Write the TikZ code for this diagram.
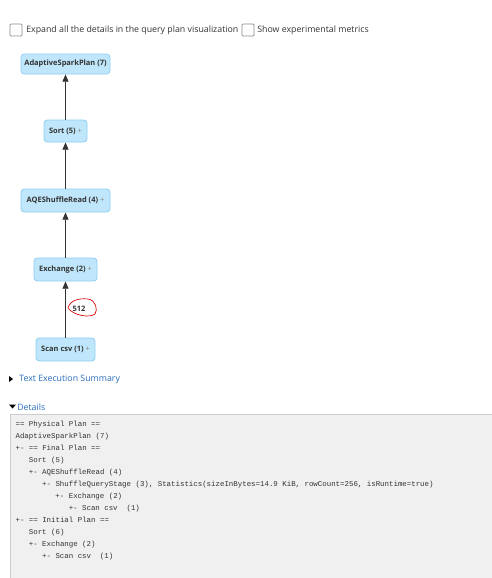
\documentclass[tikz,border=0pt]{standalone}
\usepackage{fontspec}
\setmainfont{Open Sans}
\newfontfamily\monofont{Liberation Mono}
\usetikzlibrary{arrows.meta}
\definecolor{nodefill}{HTML}{BFE6FA}
\definecolor{nodeedge}{HTML}{8CCFF2}
\definecolor{linkblue}{HTML}{2A6EBB}
\definecolor{boxfill}{HTML}{F0F0F0}
\definecolor{boxedge}{HTML}{CCCCCC}
\definecolor{plusgray}{HTML}{888888}
\definecolor{txt}{HTML}{333333}
\begin{document}
\begin{tikzpicture}[x=0.75pt,y=-0.75pt,
  plannode/.style={draw=nodeedge,fill=nodefill,rounded corners=2.5pt,line width=0.6pt,
    font=\fontsize{5.6}{6.5}\selectfont\bfseries,text=txt,inner sep=0pt},
  flow/.style={draw=black!80,line width=0.6pt,-{Triangle[length=5.5pt,width=4.5pt]}},
  chk/.style={draw=black!45,fill=white,rounded corners=0.8pt,line width=0.6pt,minimum size=9pt,inner sep=0pt},
  hdr/.style={font=\fontsize{6.6}{8}\selectfont,text=txt,anchor=west,inner sep=0pt},
  lnk/.style={font=\fontsize{6.6}{8}\selectfont,text=linkblue,anchor=west,inner sep=0pt},
  code/.style={font=\monofont\fontsize{5.56}{7}\selectfont,text=txt,anchor=west,inner sep=0pt}]
\useasboundingbox (0,0) rectangle (492,578);
% header
\node[chk] (c1) at (16,30) {};
\node[hdr] (t1) at (26,30) {Expand all the details in the query plan visualization};
\node[chk] (c2) at (248,30) {};
\node[hdr] (t2) at (257,30) {Show experimental metrics};
% plan graph
\node[plannode,minimum width=66.75pt,minimum height=15pt] (asp) at (65.5,64) {AdaptiveSparkPlan (7)};
\node[plannode,minimum width=32.25pt,minimum height=16.5pt] (sort) at (65.5,131) {Sort (5) \textcolor{plusgray}{\mdseries +}};
\node[plannode,minimum width=66.75pt,minimum height=17.25pt] (aqe) at (65.5,200.5) {AQEShuffleRead (4) \textcolor{plusgray}{\mdseries +}};
\node[plannode,minimum width=47.25pt,minimum height=17.25pt] (exch) at (65.5,269.5) {Exchange (2) \textcolor{plusgray}{\mdseries +}};
\node[plannode,minimum width=44.25pt,minimum height=17.25pt] (scan) at (65.5,349.5) {Scan csv (1) \textcolor{plusgray}{\mdseries +}};
\draw[flow] (sort) -- (asp);
\draw[flow] (aqe) -- (sort);
\draw[flow] (exch) -- (aqe);
\draw[flow] (scan) -- (exch);
% 512 label
\draw[red!85!black,line width=0.5pt] (68,308) .. controls (70,300) and (80,298) .. (88,299)
  .. controls (96,300) and (98,310) .. (95,314) .. controls (90,318) and (74,316) .. (68,308);
\node[font=\fontsize{5.6}{6.5}\selectfont\bfseries,text=txt,inner sep=0pt] (lbl) at (79,309) {512};
% summary toggles
\fill[black] (9,376) -- (13,379) -- (9,382) -- cycle;
\node[lnk] (ts) at (19,379) {Text Execution Summary};
\fill[black] (9,404.5) -- (16,404.5) -- (12.5,408.5) -- cycle;
\node[lnk] (dt) at (17,407) {Details};
% details box
\fill[boxfill] (10,414) rectangle (492,578);
\draw[boxedge,line width=0.75pt] (10.5,578) -- (10.5,414.5) -- (492,414.5);
\node[code] (l1) at (15.3,424.3) {== Physical Plan ==};
\node[code] (l2) at (15.3,436.3) {AdaptiveSparkPlan (7)};
\node[code] (l3) at (15.3,448.3) {+- == Final Plan ==};
\node[code] (l4) at (28.6,460.3) {Sort (5)};
\node[code] (l5) at (28.6,472.3) {+- AQEShuffleRead (4)};
\node[code] (l6) at (41.9,484.3) {+- ShuffleQueryStage (3), Statistics(sizeInBytes=14.9 KiB, rowCount=256, isRuntime=true)};
\node[code] (l7) at (55.2,496.3) {+- Exchange (2)};
\node[code] (l8) at (68.5,508.3) {+- Scan csv\ \ (1)};
\node[code] (l9) at (15.3,520.3) {+- == Initial Plan ==};
\node[code] (l10) at (28.6,532.3) {Sort (6)};
\node[code] (l11) at (28.6,544.3) {+- Exchange (2)};
\node[code] (l12) at (41.9,556.3) {+- Scan csv\ \ (1)};
\end{tikzpicture}
\end{document}
